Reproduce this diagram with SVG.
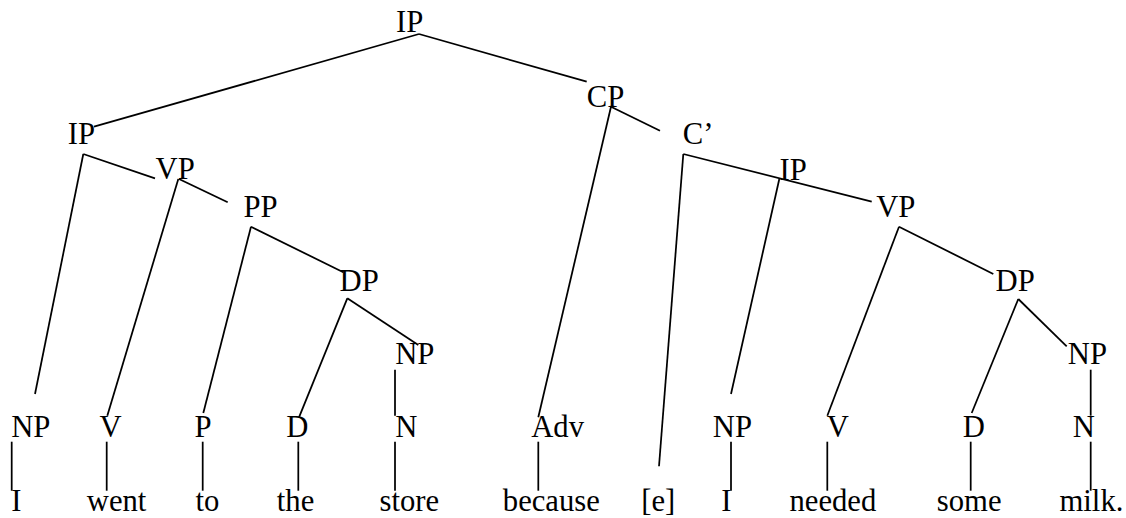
<svg xmlns="http://www.w3.org/2000/svg" width="1126" height="518" viewBox="0 0 1126 518" font-family="'Liberation Serif', Tinos, 'Times New Roman', 'DejaVu Serif', serif" font-size="30.67">
<style>
text{font-family:'Liberation Serif',Tinos,'Times New Roman','DejaVu Serif',serif;font-size:30.67px;fill:#000}
.c line{stroke:#000;stroke-width:1.75;stroke-linecap:butt}
</style>
<rect width="1126" height="518" fill="#fff"/>
<g id="connectors" class="c">
<line x1="419" y1="34" x2="94" y2="126.7"/>
<line x1="419" y1="34" x2="586.7" y2="81.7"/>
<line x1="83.3" y1="154" x2="35" y2="394"/>
<line x1="83.3" y1="154" x2="155" y2="178.3"/>
<line x1="178.3" y1="179" x2="107.3" y2="415.7"/>
<line x1="179" y1="179" x2="227.7" y2="202.3"/>
<line x1="251" y1="226.7" x2="203.3" y2="413"/>
<line x1="251" y1="226.7" x2="343.3" y2="272.3"/>
<line x1="347.3" y1="298.3" x2="299" y2="417.3"/>
<line x1="347.3" y1="298.3" x2="418.3" y2="345"/>
<line x1="395" y1="369.7" x2="395" y2="415.7"/>
<line x1="611" y1="106.7" x2="538.3" y2="417.3"/>
<line x1="611" y1="106.7" x2="660" y2="130.7"/>
<line x1="683.3" y1="154" x2="659" y2="466.3"/>
<line x1="683.3" y1="154" x2="871.7" y2="201.7"/>
<line x1="779.3" y1="179" x2="731" y2="394"/>
<line x1="899" y1="226.7" x2="827.3" y2="415.7"/>
<line x1="899" y1="226.7" x2="993.3" y2="274"/>
<line x1="1018.3" y1="299" x2="971.7" y2="413"/>
<line x1="1018.3" y1="299" x2="1066.7" y2="346.3"/>
<line x1="1090.7" y1="369.7" x2="1090.7" y2="415.7"/>
<line x1="11.7" y1="441.7" x2="11.7" y2="490.7"/>
<line x1="106.7" y1="441.7" x2="106.7" y2="490.7"/>
<line x1="202.7" y1="441.7" x2="202.7" y2="490.7"/>
<line x1="298.3" y1="441.7" x2="298.3" y2="490.7"/>
<line x1="395" y1="441.7" x2="395" y2="490.7"/>
<line x1="538.3" y1="441.7" x2="538.3" y2="490.7"/>
<line x1="731" y1="441.7" x2="731" y2="490.7"/>
<line x1="827.3" y1="441.7" x2="827.3" y2="490.7"/>
<line x1="970.7" y1="441.7" x2="970.7" y2="490.7"/>
<line x1="1090.7" y1="441.7" x2="1090.7" y2="490.7"/>
</g>
<g id="ip-root"><text x="396" y="32.3">IP</text></g>
<g id="ip-1"><text x="67.8" y="144">IP</text></g>
<g id="vp-1"><text x="155.5" y="179">VP</text></g>
<g id="pp-1"><text x="243.5" y="216.7">PP</text></g>
<g id="dp-1"><text x="339.5" y="291">DP</text></g>
<g id="np-1"><text x="395.2" y="363.5">NP</text></g>
<g id="cp"><text x="586.8" y="106.7">CP</text></g>
<g id="cbar"><text x="682.8" y="144">C’</text></g>
<g id="ip-2"><text x="779.5" y="180">IP</text></g>
<g id="vp-2"><text x="876.2" y="216.7">VP</text></g>
<g id="dp-2"><text x="995.5" y="291.3">DP</text></g>
<g id="np-2"><text x="1067.8" y="364">NP</text></g>
<g id="np-subj1"><text x="11.2" y="437">NP</text></g>
<g id="v-1"><text x="99.5" y="437">V</text></g>
<g id="p-1"><text x="194.5" y="437">P</text></g>
<g id="d-1"><text x="286.2" y="437">D</text></g>
<g id="n-1"><text x="395.2" y="437">N</text></g>
<g id="adv"><text x="531.2" y="437">Adv</text></g>
<g id="np-subj2"><text x="712.8" y="437">NP</text></g>
<g id="v-2"><text x="826.8" y="437">V</text></g>
<g id="d-2"><text x="962.8" y="437">D</text></g>
<g id="n-2"><text x="1072.8" y="437">N</text></g>
<g id="w-i1"><text x="11.2" y="510.7">I</text></g>
<g id="w-went"><text x="86.8" y="510.7">went</text></g>
<g id="w-to"><text x="195.5" y="510.7">to</text></g>
<g id="w-the"><text x="276.8" y="510.7">the</text></g>
<g id="w-store"><text x="379.5" y="510.7">store</text></g>
<g id="w-because"><text x="502.8" y="510.7">because</text></g>
<g id="w-e"><text x="641.2" y="510.7">[e]</text></g>
<g id="w-i2"><text x="721.2" y="510.7">I</text></g>
<g id="w-needed"><text x="789.5" y="510.7">needed</text></g>
<g id="w-some"><text x="936.8" y="510.7">some</text></g>
<g id="w-milk"><text x="1059.5" y="510.7">milk.</text></g>
</svg>
